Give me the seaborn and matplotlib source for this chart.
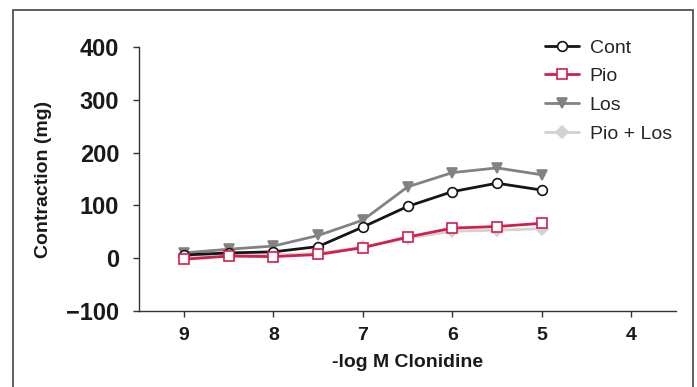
import matplotlib
matplotlib.use("Agg")
import matplotlib.pyplot as plt
from matplotlib.patches import Rectangle
import seaborn as sns
import pandas as pd

# data
log_conc = [9, 8.5, 8, 7.5, 7, 6.5, 6, 5.5, 5]
cont = [6, 10, 12, 22, 59, 98, 126, 142, 129]
pio = [-2, 4, 3, 7, 20, 40, 57, 60, 66]
los = [10, 17, 23, 43, 72, 135, 162, 171, 158]
pio_los = [3, 6, 6, 9, 21, 38, 51, 53, 56]

series_names = ["Cont", "Pio", "Los", "Pio + Los"]
x_ticks = [9, 8, 7, 6, 5, 4]
y_ticks = [-100, 0, 100, 200, 300, 400]

sns.set_theme(style="ticks")
plt.rcParams["font.family"] = ["Liberation Sans", "DejaVu Sans"]

fig = plt.figure(figsize=(6.97, 3.87), dpi=100)
ax = fig.add_axes([0.1999, 0.1964, 0.7696, 0.6822])

# draw order: back to front
styles = {
    "Pio + Los": dict(color="#d2d2d2", marker="D", ms=6.5, mfc="#d2d2d2", mec="#d2d2d2", zorder=2),
    "Los": dict(color="#828282", marker="v", ms=7, mfc="#828282", mec="#828282", zorder=3),
    "Cont": dict(color="#151515", marker="o", ms=7, mfc="white", mec="#151515", zorder=4),
    "Pio": dict(color="#d21f4e", marker="s", ms=7, mfc="white", mec="#d21f4e", zorder=5),
}
values = {"Cont": cont, "Pio": pio, "Los": los, "Pio + Los": pio_los}

for name in ["Pio + Los", "Los", "Cont", "Pio"]:
    df = pd.DataFrame({"x": log_conc, "y": values[name]})
    st = styles[name]
    sns.lineplot(data=df, x="x", y="y", ax=ax, color=st["color"], lw=2,
                 marker=st["marker"], markersize=st["ms"],
                 markerfacecolor=st["mfc"], markeredgecolor=st["mec"],
                 markeredgewidth=1.2, zorder=st["zorder"], label=name)

ax.set_xlim(9.5, 3.5)
ax.set_ylim(-100, 400)
ax.set_xticks(x_ticks)
ax.set_yticks(y_ticks)
ax.set_yticklabels(["\u2212100" if v < 0 else str(v) for v in y_ticks])
ax.tick_params(axis="y", labelsize=17, length=4.5, width=1.0, pad=10,
               color="#333333", labelcolor="#1a1a1a")
ax.tick_params(axis="x", labelsize=14, length=4.5, width=1.0, pad=7,
               color="#333333", labelcolor="#1a1a1a")
for lab in ax.get_yticklabels() + ax.get_xticklabels():
    lab.set_fontweight("bold")

ax.set_xlabel("-log M Clonidine", fontsize=14, fontweight="bold", color="#1a1a1a", labelpad=7)
ax.set_ylabel("Contraction (mg)", fontsize=14, fontweight="bold", color="#1a1a1a", labelpad=10)
sns.despine(ax=ax)
for sp in ["left", "bottom"]:
    ax.spines[sp].set_linewidth(1.0)
    ax.spines[sp].set_color("#333333")

# move the legend out of the axes legend and into a figure legend
handles, labels = ax.get_legend_handles_labels()
ax.get_legend().remove()
order = [labels.index(n) for n in series_names]
leg = fig.legend([handles[i] for i in order], [labels[i] for i in order],
                 loc="upper left", bbox_to_anchor=(545 / 697, 1 - 39 / 387),
                 frameon=False, fontsize=14, handlelength=1.75, handletextpad=0.55,
                 labelspacing=0.57, borderpad=0, borderaxespad=0)

# outer frame around the figure
fig.patches.append(Rectangle((13 / 697, -0.1), (693 - 13) / 697, 1.1 - 10 / 387,
                             transform=fig.transFigure, fill=False,
                             edgecolor="#444444", lw=1.2))

fig.savefig("out.png", dpi=100)
